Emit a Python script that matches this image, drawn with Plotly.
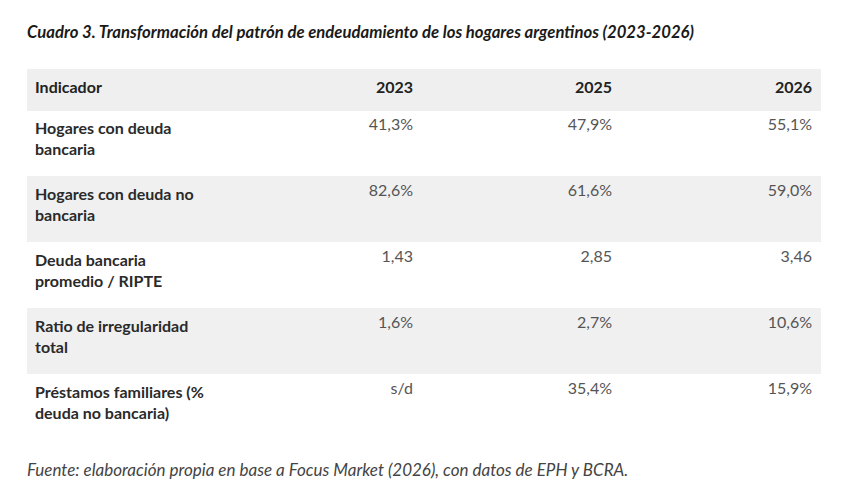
import plotly.graph_objects as go

title = "Cuadro 3. Transformación del patrón de endeudamiento de los hogares argentinos (2023-2026)"
source = "Fuente: elaboración propia en base a Focus Market (2026), con datos de EPH y BCRA."

header = ["Indicador", "2023", "2025", "2026"]
indicadores = [
    "Hogares con deuda<br>bancaria",
    "Hogares con deuda no<br>bancaria",
    "Deuda bancaria<br>promedio / RIPTE",
    "Ratio de irregularidad<br>total",
    "Préstamos familiares (%<br>deuda no bancaria)",
]
v2023 = ["41,3%", "82,6%", "1,43", "1,6%", "s/d"]
v2025 = ["47,9%", "61,6%", "2,85", "2,7%", "35,4%"]
v2026 = ["55,1%", "59,0%", "3,46", "10,6%", "15,9%"]

FONT = "Lato"
W, H = 852, 497
OFF = 8  # page offset seen in the render
row_fill = ["white", "#f0f0f0", "white", "#f0f0f0", "white"]

fig = go.Figure(go.Table(
    domain=dict(x=[(27 - OFF) / W, (820 - OFF) / W], y=[0, 1 - (69 - OFF) / H]),
    columnwidth=[195, 199, 199, 200],
    header=dict(
        values=["<b>%s</b>" % h for h in header],
        align=["left", "right", "right", "right"],
        fill_color="#efefef",
        line=dict(color="#efefef", width=1),
        font=dict(family=FONT, size=16, color="#222222"),
        height=41,
    ),
    cells=dict(
        values=[["<b>%s</b>" % s for s in indicadores], v2023, v2025, v2026],
        align=["left", "right", "right", "right"],
        fill_color=[row_fill] * 4,
        line=dict(color=[row_fill] * 4, width=1),
        font=dict(family=FONT, size=16, color=["#2a2a2a", "#555555", "#555555", "#555555"]),
        height=66,
    ),
))

fig.add_annotation(text="<b><i>%s</i></b>" % title, x=(27 - 10) / W, y=1 - (32 - OFF) / H,
                   xref="paper", yref="paper", xanchor="left", yanchor="middle",
                   showarrow=False, font=dict(family=FONT, size=16.7, color="#1a1a1a"))
fig.add_annotation(text="<i>%s</i>" % source, x=(27 - 10) / W, y=1 - (470 - 9) / H,
                   xref="paper", yref="paper", xanchor="left", yanchor="middle",
                   showarrow=False, font=dict(family=FONT, size=17, color="#444444"))

fig.update_layout(width=W, height=H, margin=dict(l=0, r=0, t=0, b=0),
                  paper_bgcolor="white", plot_bgcolor="white")
fig.write_html("out.html")
